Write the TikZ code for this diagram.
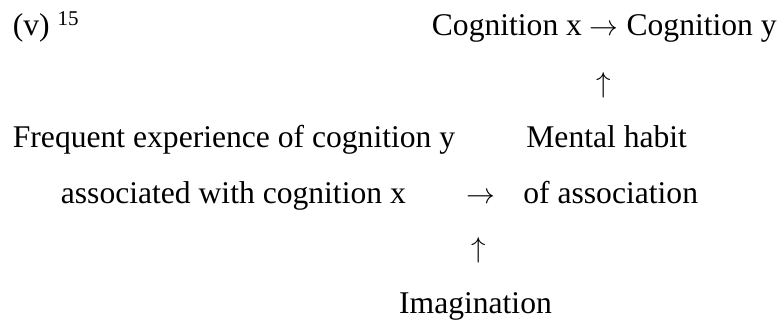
\documentclass[tikz,border=0pt]{standalone}
\usepackage{fontspec}
\setmainfont{Liberation Serif}
\newcommand{\rarr}{{\fontsize{14}{14}\selectfont$\rightarrow$}}
\newcommand{\uarr}{{\fontsize{14.5}{14.5}\selectfont$\uparrow$}}

\begin{document}
\begin{tikzpicture}[x=0.5pt,y=-0.5pt]
\useasboundingbox (0,0) rectangle (784,322);
\begin{scope}[every node/.style={anchor=base west, inner sep=0pt, font=\fontsize{15.8}{18}\selectfont}]
    % first line
    \node (lab) at (12.5,35) {(v) \raisebox{5pt}{\fontsize{10.5}{11}\selectfont 15}};
    \node (cog) at (431.5,35) {Cognition x \rarr{} Cognition y};
    \node [anchor=center] (up1) at (603.5,85) {\uarr};

    % middle block
    \node (freq) at (12.5,147) {Frequent experience of cognition y};
    \node (habit) at (526,147) {Mental habit};
    \node (assoc) at (60.5,203) {associated with cognition x};
    \node [anchor=base] (toh) at (481,203) {\rarr};
    \node (ofas) at (523,203) {of association};
    \node [anchor=center] (up2) at (478.5,250) {\uarr};

    % bottom
    \node [anchor=base] (imag) at (475.5,313) {Imagination};
\end{scope}
\end{tikzpicture}
\end{document}
